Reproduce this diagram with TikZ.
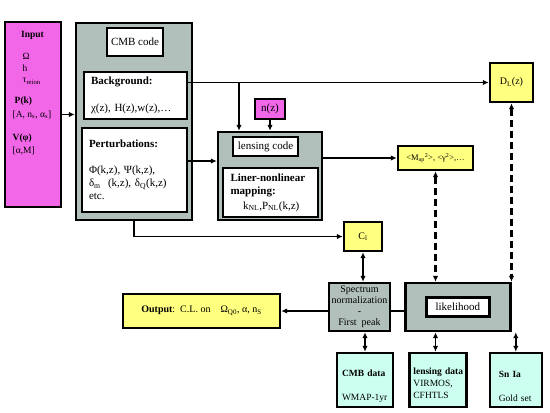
\documentclass[tikz,border=0pt]{standalone}
\usepackage{fontspec}
\setmainfont{Liberation Serif}
\usepackage{tikz}
\usetikzlibrary{shapes,arrows,arrows.meta,positioning}
\usetikzlibrary{calc}
\usepackage{color}
\definecolor{inputpink}{RGB}{242,102,232}
\definecolor{codegray}{RGB}{178,192,188}
\definecolor{resultyellow}{RGB}{255,255,128}
\definecolor{datacyan}{RGB}{204,255,240}

\begin{document}
\begin{tikzpicture}[x=1pt,y=-1pt,>={Latex[length=6pt,width=5.5pt]},
codebox/.style={
% The shape:
rectangle,inner sep=0pt,
% The border:
line width=2.4pt,draw=black,
% The filling:
fill=codegray},
part/.style={
% The shape:
rectangle,inner sep=0pt,
% The border:
line width=2.4pt,draw=black,
% The filling:
fill=white,
% Font
font=\fontsize{11}{13}\selectfont},
result/.style={
% The shape:
rectangle,inner sep=0pt,
% The rest
line width=2.4pt,draw=black,fill=resultyellow,
font=\fontsize{10}{12}\selectfont},
dataset/.style={
% The shape:
rectangle,inner ysep=0pt,minimum height=54,align=left,
% The rest
line width=2.4pt,draw=black,fill=datacyan,
font=\fontsize{9.5}{12}\selectfont},
link/.style={line width=1.6pt},
dashlink/.style={line width=2.4pt,dash pattern=on 7pt off 4pt}]

\useasboundingbox (0,0) rectangle (550,413);

% input parameters
\node (input) [part, fill=inputpink, minimum width=56, minimum height=185] at (33,114.5) {};
\node (inputtxt) [anchor=north west, align=left, inner sep=0pt,
  font=\fontsize{9.5}{11.5}\selectfont] at (12.5,31) {%
\hspace*{8.5pt}\textbf{Input}\\[11pt]
\hspace*{10pt}Ω\\
\hspace*{10pt}h\\
\hspace*{10pt}τ\textsubscript{reion}\\[9pt]
\hspace*{2pt}\textbf{P(k)}\\[3pt]
{[A, n\textsubscript{s}, α\textsubscript{s}]}\\[11pt]
\textbf{V(φ)}\\[1.5pt]
{[α,M]}};

% CMB code
\node (cmbbox) [codebox, minimum width=116, minimum height=197] at (134,121.5) {};
\node (cmbcode) [part, minimum width=56, minimum height=28] at (135,42) {CMB code};
\node (bg) [part, align=left, inner xsep=7pt, text width=89, minimum height=47] at (135.5,95.5)
 {\textbf{Background:}\\[14pt] χ(z), H(z),w(z),…};
\node (pert) [part, align=left, inner xsep=7pt, text width=91, minimum height=84] at (134.5,170)
 {\textbf{Perturbations:}\\[13pt] Φ(k,z), Ψ(k,z),\\ δ\textsubscript{m}\ \ (k,z), δ\textsubscript{Q}(k,z)\\ etc.};

% lensing code
\node (nz) [part, fill=inputpink, minimum width=30, minimum height=20] at (270,109) {n(z)};
\node (lensbox) [codebox, minimum width=104, minimum height=88] at (270,176) {};
\node (lenscode) [part, minimum width=65, minimum height=19] at (265.5,146.5) {lensing code};
\node (mapping) [part, align=left, inner xsep=7.5pt, text width=80, minimum height=49] at (270.5,192.5)
 {\textbf{Liner-nonlinear}\\ \textbf{mapping:}\\[2pt] \hspace*{12.5pt}k\textsubscript{NL},P\textsubscript{NL}(k,z)};

% observables
\node (dl) [result, minimum width=43, minimum height=39] at (511.5,82.5) {D\textsubscript{L}(z)};
\node (map) [result, minimum width=75, minimum height=24, font=\fontsize{8.5}{10}\selectfont] at (435.5,158)
 {<M\textsubscript{ap}\textsuperscript{2}>, <γ\textsuperscript{2}>,…};
\node (cl) [result, minimum width=38, minimum height=29] at (363,236.5) {C\textsubscript{l}};

% analysis
\node (spec) [codebox, align=center, minimum width=61, minimum height=48,
  font=\fontsize{10}{11}\selectfont] at (359.5,307) {Spectrum\\normalization\\-\\First\ \ peak};
\node (likebox) [codebox, minimum width=105, minimum height=48, right=13 of spec] {};
\node (likelihood) [part, minimum width=63, minimum height=19] at (likebox.center) {likelihood};
\node (output) [result, minimum width=157, minimum height=34] at (201.5,311)
 {\textbf{Output}:\ \ C.L. on\ \ \ \ Ω\textsubscript{Q0}, α, n\textsubscript{S}};

% data sets
\node (cmbdata) [dataset, inner xsep=5pt, text width=46] at (365,380)
 {\rule{0pt}{19pt}\textbf{CMB data}\\[12pt] \mbox{WMAP-1yr}};
\node (lensdata) [dataset, inner xsep=4pt, text width=49, right=14 of cmbdata]
 {\rule{0pt}{13pt}\mbox{\textbf{lensing data}}\\ VIRMOS,\\ CFHTLS};
\node (sndata) [dataset, inner xsep=9pt, text width=34, right=21 of lensdata]
 {\rule{0pt}{19pt}\textbf{Sn Ia}\\[12pt] \mbox{Gold set}};

% connectors
\coordinate (bgout) at (bg.east |- dl.west);
\coordinate (lensin) at (239,82.5);
\path (input.east) edge[->, link] (input.east -| cmbbox.west);
\draw [->, link] (bgout) -- (dl.west);
\draw [->, link] (lensin) -- (lensin |- lensbox.north);
\path (nz) edge[->, link] (lensbox);
\draw [->, link] ([yshift=9pt]pert.east) -- ([yshift=9pt]pert.east -| lensbox.west);
\draw [->, link] (map.west -| lensbox.east) -- (map.west);
\draw [->, link] (cmbbox.south) |- (cl.west);
\draw [<->, link] (cl.south) -- (cl.south |- spec.north);
\draw [->, link] (output.east -| spec.west) -- (output.east);
\draw [link] (output.east -| spec.east) -- (output.east -| likebox.west);
\draw [<->, dashlink] (map.south) -- (map.south |- likebox.north);
\draw [<->, dashlink] (dl.south) -- (dl.south |- likebox.north);
\draw [<->, link] (cmbdata.north) -- (cmbdata.north |- spec.south);
\draw [<->, link] (lensdata.north -| map.south) -- (map.south |- likebox.south);
\draw [<->, link] (sndata.north) -- (sndata.north |- likebox.south);
\end{tikzpicture}
\end{document}
